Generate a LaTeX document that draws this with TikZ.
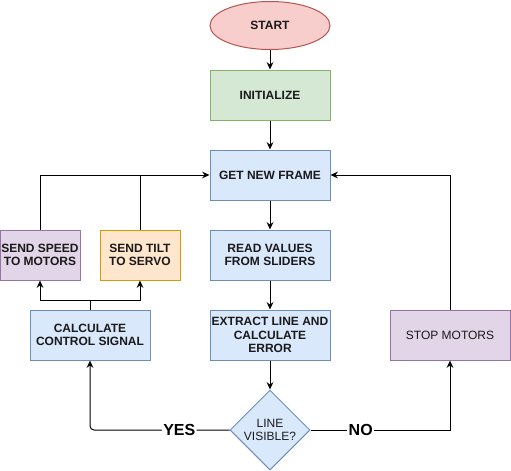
\documentclass[tikz,border=0pt]{standalone}
\usepackage{fontspec}
\setmainfont{Liberation Sans}
\usetikzlibrary{shapes.geometric,arrows.meta,calc}
\definecolor{redF}{HTML}{F8CECC}\definecolor{redD}{HTML}{B85450}
\definecolor{greenF}{HTML}{D5E8D4}\definecolor{greenD}{HTML}{82B366}
\definecolor{blueF}{HTML}{DAE8FC}\definecolor{blueD}{HTML}{6C8EBF}
\definecolor{purpF}{HTML}{E1D5E7}\definecolor{purpD}{HTML}{9673A6}
\definecolor{oraF}{HTML}{FFE6CC}\definecolor{oraD}{HTML}{D79B00}
\definecolor{txt}{HTML}{1A1A1A}
\tikzset{
  base/.style={line width=0.75pt, inner sep=0pt, align=center, text=txt,
    font=\fontsize{9}{10.2}\selectfont},
  bigbox/.style={base, rectangle, minimum width=90pt, minimum height=37.5pt},
  smallbox/.style={base, rectangle, minimum width=60pt, minimum height=37.5pt},
  bluebox/.style={fill=blueF, draw=blueD},
  conn/.style={line width=0.75pt, draw=black},
  arr/.style={conn, -{Stealth[length=5.5pt,width=5pt]}},
  edgelabel/.style={fill=white, inner sep=1pt, text=black,
    font=\fontsize{12}{12}\selectfont\bfseries},
}
\begin{document}
\begin{tikzpicture}[x=0.75pt,y=-0.75pt]
\useasboundingbox (0,0) rectangle (511,471);
\node[base, ellipse, fill=redF, draw=redD, minimum width=90pt, minimum height=36pt, font=\fontsize{9}{10.2}\selectfont\bfseries] (start) at (270,25.5) {START};
\node[bigbox, fill=greenF, draw=greenD, font=\fontsize{9}{10.2}\selectfont\bfseries] (init) at (270,95) {INITIALIZE};
\node[bigbox, bluebox, font=\fontsize{9}{10.2}\selectfont\bfseries] (get) at (270,175) {GET NEW FRAME};
\node[bigbox, bluebox, font=\fontsize{9}{10.2}\selectfont\bfseries] (read) at (270,255) {READ VALUES\\FROM SLIDERS};
\node[bigbox, bluebox, font=\fontsize{9}{10.2}\selectfont\bfseries] (extract) at (270,335) {EXTRACT LINE AND\\CALCULATE\\ERROR};
\node[base, diamond, aspect=1, fill=blueF, draw=blueD, minimum width=60pt, minimum height=60pt,
  label={[base, font=\fontsize{9}{10.2}\selectfont]center:LINE\\VISIBLE?}] (dec) at (270,430) {};
\node[bigbox, fill=purpF, draw=purpD] (stop) at (450,335) {STOP MOTORS};
\node[bigbox, bluebox, font=\fontsize{9}{10.2}\selectfont\bfseries] (calc) at (90,335) {CALCULATE\\CONTROL SIGNAL};
\node[smallbox, fill=purpF, draw=purpD, font=\fontsize{9}{10.2}\selectfont\bfseries] (speed) at (40,255) {SEND SPEED\\TO MOTORS};
\node[smallbox, fill=oraF, draw=oraD, font=\fontsize{9}{10.2}\selectfont\bfseries] (tilt) at (140,255) {SEND TILT\\TO SERVO};
\coordinate (split) at (90,300);
\coordinate (join) at (140,175);

\draw[arr] (start) -- (init);
\draw[arr] (init) -- (get);
\draw[arr] (get) -- (read);
\draw[arr] (read) -- (extract);
\draw[arr] (extract) -- (dec);
\draw[arr, rounded corners=3] (dec.west) -| (calc.south) node[pos=0.18, edgelabel] {YES};
\draw[arr] (dec.east) -| (stop.south) node[pos=0.18, edgelabel] {NO};
\draw[arr] (stop.north) |- (get.east);
\draw[conn] (calc.north) -- (split);
\draw[arr] (split) -| (speed.south);
\draw[arr] (split) -| (tilt.south);
\draw[arr] (speed.north) |- (get.west);
\draw[conn] (tilt.north) -- (join);
\end{tikzpicture}
\end{document}
